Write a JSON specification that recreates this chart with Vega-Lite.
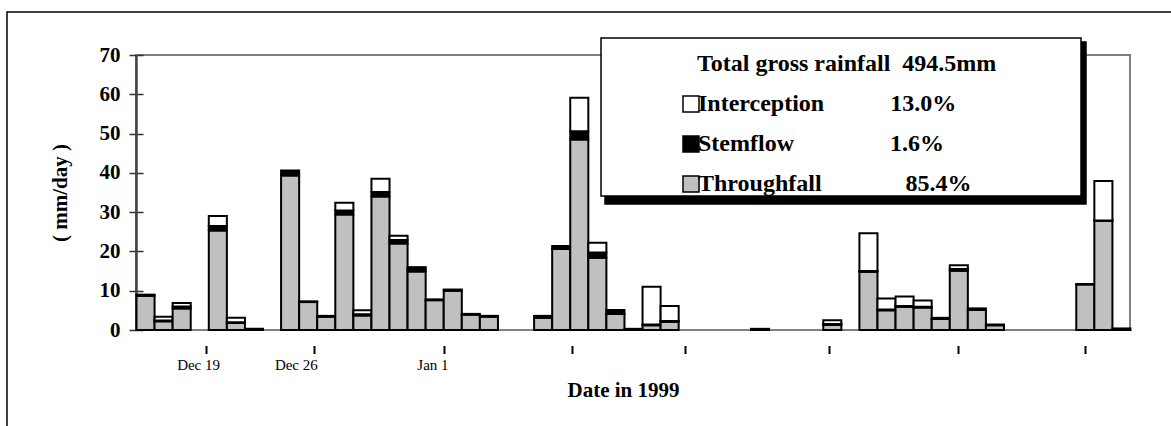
{
  "$schema": "https://vega.github.io/schema/vega-lite/v6.json",
  "width": 994,
  "height": 275,
  "autosize": "none",
  "padding": {"left": 136, "top": 55, "right": 41, "bottom": 96},
  "background": "white",
  "config": {
    "font": "Liberation Serif",
    "view": {"stroke": "#808080", "strokeWidth": 2},
    "legend": {
      "orient": "none",
      "direction": "vertical",
      "padding": 0,
      "strokeColor": "black",
      "strokeWidth": 1.5,
      "titleFont": "Liberation Serif",
      "titleFontSize": 24,
      "titleFontWeight": "bold",
      "titleColor": "black",
      "titleAnchor": "start",
      "titleLineHeight": 14,
      "titleLimit": 1000,
      "titlePadding": 16,
      "labelFont": "Liberation Serif",
      "labelFontSize": 24,
      "labelFontWeight": "bold",
      "labelColor": "black",
      "labelLimit": 1000,
      "labelOffset": -5,
      "symbolOffset": 78,
      "symbolType": "square",
      "symbolSize": 256,
      "symbolStrokeColor": "black",
      "symbolStrokeWidth": 1.5,
      "rowPadding": 16
    }
  },
  "data": {
    "values": [
      {"slot": 0, "component": "Throughfall", "mm": 8.7}, {"slot": 0, "component": "Stemflow", "mm": 0.3},
      {"slot": 1, "component": "Throughfall", "mm": 2.2}, {"slot": 1, "component": "Stemflow", "mm": 0.2}, {"slot": 1, "component": "Interception", "mm": 1.0},
      {"slot": 2, "component": "Throughfall", "mm": 5.5}, {"slot": 2, "component": "Stemflow", "mm": 0.5}, {"slot": 2, "component": "Interception", "mm": 0.9},
      {"slot": 4, "component": "Throughfall", "mm": 25.3}, {"slot": 4, "component": "Stemflow", "mm": 1.2}, {"slot": 4, "component": "Interception", "mm": 2.5},
      {"slot": 5, "component": "Throughfall", "mm": 1.8}, {"slot": 5, "component": "Stemflow", "mm": 0.2}, {"slot": 5, "component": "Interception", "mm": 1.1},
      {"slot": 6, "component": "Throughfall", "mm": 0.3},
      {"slot": 8, "component": "Throughfall", "mm": 39.3}, {"slot": 8, "component": "Stemflow", "mm": 1.3},
      {"slot": 9, "component": "Throughfall", "mm": 7.1}, {"slot": 9, "component": "Stemflow", "mm": 0.2},
      {"slot": 10, "component": "Throughfall", "mm": 3.4}, {"slot": 10, "component": "Stemflow", "mm": 0.2},
      {"slot": 11, "component": "Throughfall", "mm": 29.4}, {"slot": 11, "component": "Stemflow", "mm": 1.0}, {"slot": 11, "component": "Interception", "mm": 2.0},
      {"slot": 12, "component": "Throughfall", "mm": 3.7}, {"slot": 12, "component": "Stemflow", "mm": 0.3}, {"slot": 12, "component": "Interception", "mm": 1.0},
      {"slot": 13, "component": "Throughfall", "mm": 34.0}, {"slot": 13, "component": "Stemflow", "mm": 1.1}, {"slot": 13, "component": "Interception", "mm": 3.4},
      {"slot": 14, "component": "Throughfall", "mm": 22.0}, {"slot": 14, "component": "Stemflow", "mm": 0.9}, {"slot": 14, "component": "Interception", "mm": 1.1},
      {"slot": 15, "component": "Throughfall", "mm": 14.9}, {"slot": 15, "component": "Stemflow", "mm": 0.8}, {"slot": 15, "component": "Interception", "mm": 0.3},
      {"slot": 16, "component": "Throughfall", "mm": 7.6}, {"slot": 16, "component": "Stemflow", "mm": 0.2},
      {"slot": 17, "component": "Throughfall", "mm": 10.0}, {"slot": 17, "component": "Stemflow", "mm": 0.3},
      {"slot": 18, "component": "Throughfall", "mm": 3.9}, {"slot": 18, "component": "Stemflow", "mm": 0.2},
      {"slot": 19, "component": "Throughfall", "mm": 3.4}, {"slot": 19, "component": "Stemflow", "mm": 0.2},
      {"slot": 22, "component": "Throughfall", "mm": 3.1}, {"slot": 22, "component": "Stemflow", "mm": 0.5},
      {"slot": 23, "component": "Throughfall", "mm": 20.6}, {"slot": 23, "component": "Stemflow", "mm": 0.8},
      {"slot": 24, "component": "Throughfall", "mm": 48.5}, {"slot": 24, "component": "Stemflow", "mm": 2.1}, {"slot": 24, "component": "Interception", "mm": 8.5},
      {"slot": 25, "component": "Throughfall", "mm": 18.4}, {"slot": 25, "component": "Stemflow", "mm": 1.3}, {"slot": 25, "component": "Interception", "mm": 2.5},
      {"slot": 26, "component": "Throughfall", "mm": 4.1}, {"slot": 26, "component": "Stemflow", "mm": 1.0},
      {"slot": 27, "component": "Throughfall", "mm": 0.3},
      {"slot": 28, "component": "Throughfall", "mm": 1.2}, {"slot": 28, "component": "Stemflow", "mm": 0.2}, {"slot": 28, "component": "Interception", "mm": 9.6},
      {"slot": 29, "component": "Throughfall", "mm": 2.1}, {"slot": 29, "component": "Stemflow", "mm": 0.2}, {"slot": 29, "component": "Interception", "mm": 3.8},
      {"slot": 34, "component": "Throughfall", "mm": 0.3},
      {"slot": 38, "component": "Throughfall", "mm": 1.3}, {"slot": 38, "component": "Stemflow", "mm": 0.2}, {"slot": 38, "component": "Interception", "mm": 1.0},
      {"slot": 40, "component": "Throughfall", "mm": 14.8}, {"slot": 40, "component": "Stemflow", "mm": 0.2}, {"slot": 40, "component": "Interception", "mm": 9.6},
      {"slot": 41, "component": "Throughfall", "mm": 5.0}, {"slot": 41, "component": "Stemflow", "mm": 0.2}, {"slot": 41, "component": "Interception", "mm": 2.8},
      {"slot": 42, "component": "Throughfall", "mm": 5.9}, {"slot": 42, "component": "Stemflow", "mm": 0.2}, {"slot": 42, "component": "Interception", "mm": 2.4},
      {"slot": 43, "component": "Throughfall", "mm": 5.7}, {"slot": 43, "component": "Stemflow", "mm": 0.2}, {"slot": 43, "component": "Interception", "mm": 1.6},
      {"slot": 44, "component": "Throughfall", "mm": 2.8}, {"slot": 44, "component": "Stemflow", "mm": 0.3},
      {"slot": 45, "component": "Throughfall", "mm": 15.1}, {"slot": 45, "component": "Stemflow", "mm": 0.4}, {"slot": 45, "component": "Interception", "mm": 1.0},
      {"slot": 46, "component": "Throughfall", "mm": 5.1}, {"slot": 46, "component": "Stemflow", "mm": 0.4},
      {"slot": 47, "component": "Throughfall", "mm": 1.2}, {"slot": 47, "component": "Stemflow", "mm": 0.2},
      {"slot": 52, "component": "Throughfall", "mm": 11.6}, {"slot": 52, "component": "Stemflow", "mm": 0.1},
      {"slot": 53, "component": "Throughfall", "mm": 27.8}, {"slot": 53, "component": "Stemflow", "mm": 0.1}, {"slot": 53, "component": "Interception", "mm": 10.0},
      {"slot": 54, "component": "Throughfall", "mm": 0.4}
    ]
  },
  "encoding": {
    "x": {
      "field": "slot",
      "type": "quantitative",
      "bin": {"step": 1, "extent": [0, 55]},
      "scale": {"domain": [0, 55], "nice": false, "zero": false},
      "axis": {
        "values": [3.85, 9.84, 17.04, 24.13, 30.35, 38.35, 45.49, 52.52],
        "labelExpr": "datum.value < 5 ? 'Dec 19' : datum.value < 12 ? 'Dec 26' : datum.value < 20 ? 'Jan 1' : ''",
        "labelOffset": {"condition": [{"test": "datum.value < 5", "value": -7.5}, {"test": "datum.value < 12", "value": -18}], "value": -11.5},
        "domain": false,
        "grid": false,
        "offset": 15.5,
        "tickSize": 8,
        "tickWidth": 2,
        "tickColor": "black",
        "labelFont": "Liberation Serif",
        "labelFontSize": 15,
        "labelColor": "black",
        "labelPadding": 4,
        "labelFlush": false,
        "labelOverlap": false,
        "title": "Date in 1999",
        "titleFont": "Liberation Serif",
        "titleFontSize": 21,
        "titleFontWeight": "bold",
        "titleColor": "black",
        "titleX": 487,
        "titleY": 51,
        "titleAlign": "center",
        "titleBaseline": "alphabetic"
      }
    },
    "y": {
      "field": "mm",
      "type": "quantitative",
      "stack": "zero",
      "scale": {"domain": [0, 70], "nice": false},
      "axis": {
        "values": [0, 10, 20, 30, 40, 50, 60, 70],
        "domainColor": "#444",
        "domainWidth": 2.5,
        "tickColor": "#333",
        "tickSize": 7,
        "tickWidth": 1.5,
        "grid": true,
        "gridColor": "#333",
        "gridWidth": 1.5,
        "gridDash": [7, 3000],
        "labelFont": "Liberation Serif",
        "labelFontSize": 21,
        "labelFontWeight": "bold",
        "labelColor": "black",
        "labelPadding": 9,
        "title": "( mm/day )",
        "titleFont": "Liberation Serif",
        "titleFontSize": 21,
        "titleFontWeight": "bold",
        "titleColor": "black",
        "titleAngle": 270,
        "titleX": -76,
        "titleY": 137.5,
        "titleAlign": "center",
        "titleBaseline": "middle"
      }
    },
    "order": {"field": "component", "sort": "descending"}
  },
  "layer": [
    {
      "mark": {"type": "point", "opacity": 0},
      "encoding": {
        "color": {
          "field": "component",
          "type": "nominal",
          "scale": {"domain": ["Throughfall", "Stemflow", "Interception"], "range": ["#000000", "#000000", "#000000"]},
          "legend": {
            "title": null,
            "legendX": 469,
            "legendY": -13,
            "fillColor": "black",
            "labelFontSize": 1,
            "labelExpr": "''",
            "symbolStrokeWidth": 0,
            "symbolOffset": 465,
            "rowPadding": 57
          }
        },
        "shape": {
          "field": "component",
          "type": "nominal",
          "scale": {"domain": ["Stemflow", "Interception", "Throughfall"], "range": ["square", "square", "square"]},
          "legend": {
            "title": null,
            "legendX": -129,
            "legendY": -43,
            "labelFontSize": 1,
            "labelExpr": "''",
            "symbolStrokeWidth": 0,
            "symbolOffset": 1170,
            "rowPadding": 190
          }
        }
      }
    },
    {
      "mark": {"type": "bar", "stroke": "black", "strokeWidth": 2, "binSpacing": 0},
      "encoding": {
        "fill": {
          "field": "component",
          "type": "nominal",
          "scale": {"domain": ["Interception", "Stemflow", "Throughfall"], "range": ["#ffffff", "#000000", "#c0c0c0"]},
          "legend": {
            "title": ["\u00a0", "\u200b\u00a0\u00a0\u00a0\u00a0\u00a0\u00a0\u00a0\u00a0\u00a0\u00a0\u00a0\u00a0\u00a0\u00a0\u00a0\u00a0Total gross rainfall\u00a0\u00a0494.5mm\u00a0\u00a0\u00a0\u00a0\u00a0\u00a0\u00a0\u00a0\u00a0\u00a0\u00a0\u00a0\u00a0\u00a0\u200b"],
            "legendX": 465,
            "legendY": -17,
            "fillColor": "white",
            "labelExpr": "datum.label == 'Interception' ? 'Interception\u00a0\u00a0\u00a0\u00a0\u00a0\u00a0\u00a0\u00a0\u00a0\u00a0\u00a013.0%' : datum.label == 'Stemflow' ? 'Stemflow\u00a0\u00a0\u00a0\u00a0\u00a0\u00a0\u00a0\u00a0\u00a0\u00a0\u00a0\u00a0\u00a0\u00a0\u00a0\u00a01.6%' : 'Throughfall\u00a0\u00a0\u00a0\u00a0\u00a0\u00a0\u00a0\u00a0\u00a0\u00a0\u00a0\u00a0\u00a0\u00a085.4%'"
          }
        }
      }
    }
  ]
}
